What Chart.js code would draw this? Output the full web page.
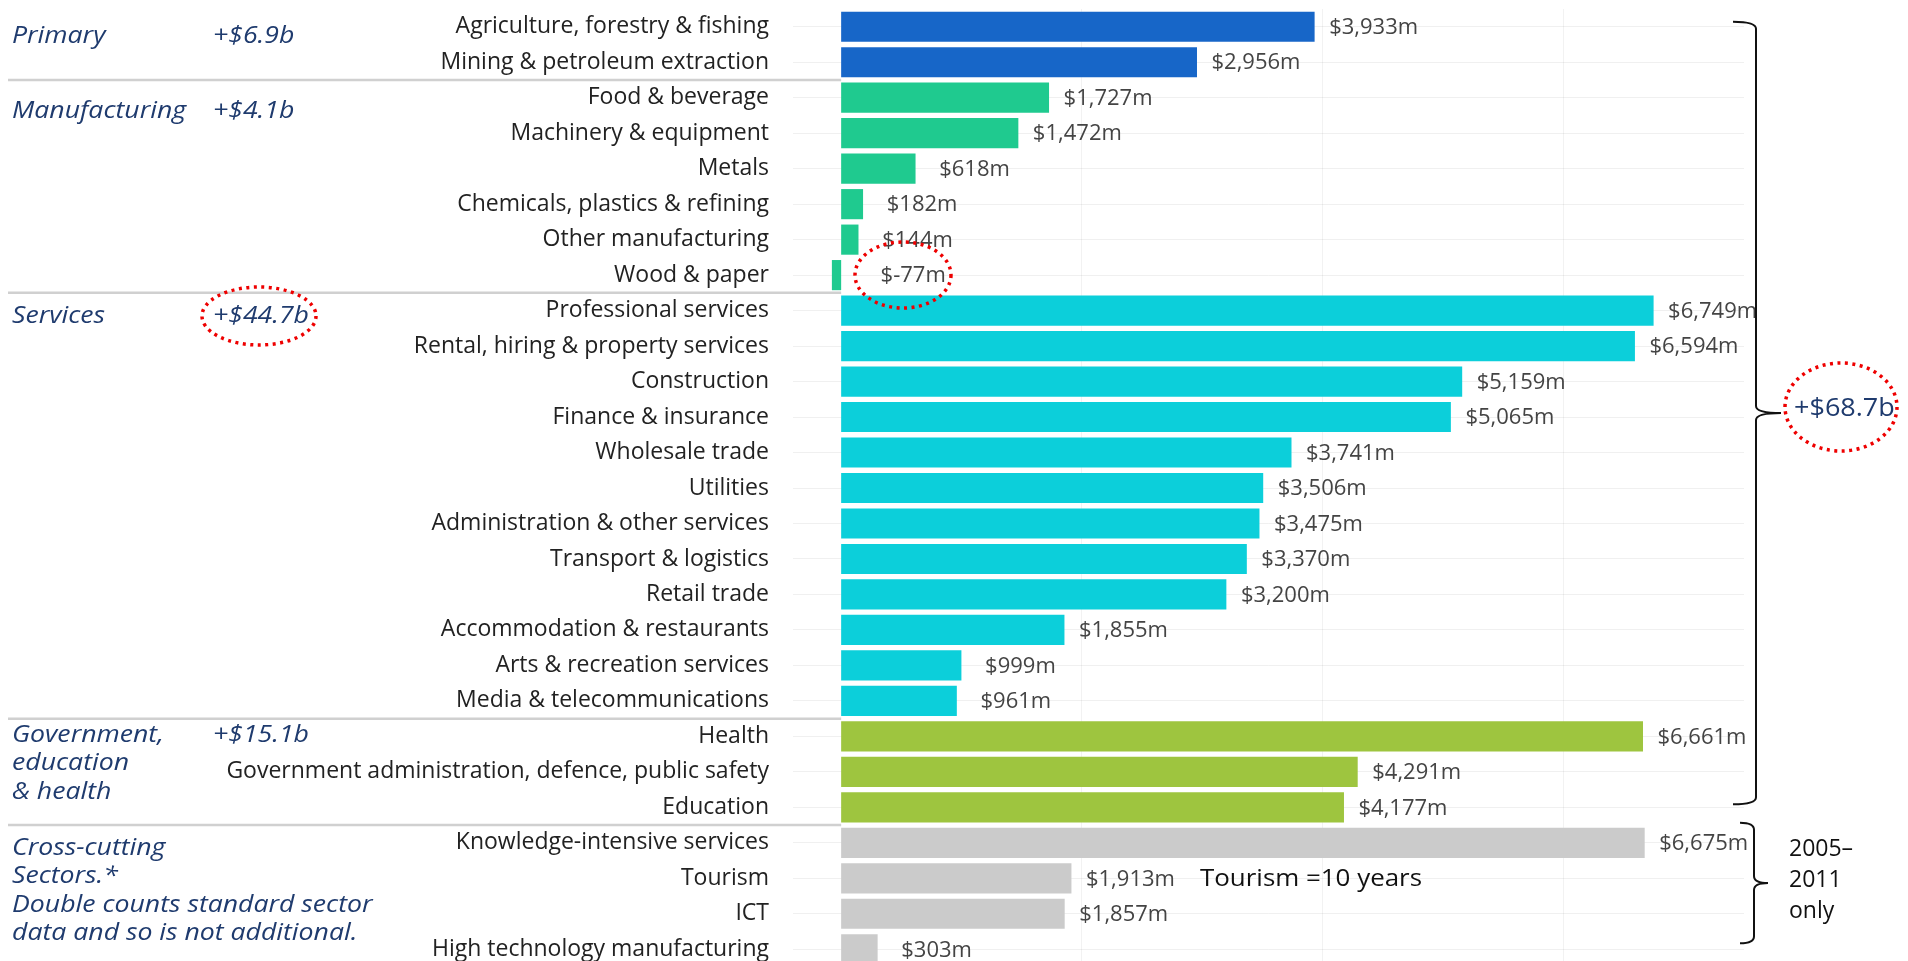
<!DOCTYPE html>
<html>
<head>
<meta charset="utf-8">
<script src="https://cdn.jsdelivr.net/npm/chart.js@4/dist/chart.umd.min.js"></script>
<style>
	html, body { margin: 0; padding: 0; background: #fff; overflow: hidden; }
	#wrap { position: relative; width: 1908px; height: 975px; }
</style>
</head>
<body>
<div id="wrap"><canvas id="sector-chart"></canvas></div>
<script>
const CATEGORIES = [`Agriculture, forestry & fishing`, `Mining & petroleum extraction`,
	`Food & beverage`, `Machinery & equipment`, `Metals`, `Chemicals, plastics & refining`, `Other manufacturing`, `Wood & paper`,
	`Professional services`, `Rental, hiring & property services`, `Construction`, `Finance & insurance`, `Wholesale trade`, `Utilities`,
	`Administration & other services`, `Transport & logistics`, `Retail trade`, `Accommodation & restaurants`, `Arts & recreation services`, `Media & telecommunications`,
	`Health`, `Government administration, defence, public safety`, `Education`,
	`Knowledge-intensive services`, `Tourism`, `ICT`, `High technology manufacturing`];
const VALUES = [3933, 2956,
	1727, 1472, 618, 182, 144, -77,
	6749, 6594, 5159, 5065, 3741, 3506, 3475, 3370, 3200, 1855, 999, 961,
	6661, 4291, 4177,
	6675, 1913, 1857, 303];
const GROUP_SIZES = [2, 6, 12, 3, 4];
const GROUP_NAMES = [[`Primary`], [`Manufacturing`], [`Services`], [`Government,`, `education`, `& health`],
	[`Cross-cutting`, `Sectors.*`, `Double counts standard sector`, `data and so is not additional.`]];
const GROUP_TOTALS = [`+$6.9b`, `+$4.1b`, `+$44.7b`, `+$15.1b`, ``];
const GRAND_TOTAL = `+$68.7b`;
const X_GRID_TICKS = [2000, 4000, 6000];

const C_BLUE = `#1766c8`;
const C_GREEN = `#1fca8f`;
const C_CYAN = `#0ccfda`;
const C_LIME = `#9ec53f`;
const C_GREY = `#cbcbcb`;
const GROUP_COLORS = [C_BLUE, C_GREEN, C_CYAN, C_LIME, C_GREY];
const NAVY = `#1f3b6e`;
const RED = `#ee0000`;

let barColors = [];
GROUP_SIZES.forEach((n, g) => { for (let i = 0; i < n; i++) barColors.push(GROUP_COLORS[g]); });

let groupStart = (g) => GROUP_SIZES.slice(0, g).reduce((a, b) => a + b, 0);

// text drawn a little wider, the original face is a broad geometric one
let wideText = (ctx, t, x, y, sx) => {
	ctx.save();
	ctx.translate(x, y);
	ctx.scale(sx, 1);
	ctx.fillText(t, 0, 0);
	ctx.restore();
};

let dottedEllipse = (ctx, cx, cy, rx, ry) => {
	ctx.save();
	ctx.strokeStyle = RED;
	ctx.lineWidth = 3.5;
	ctx.setLineDash([3, 4.5]);
	ctx.beginPath();
	ctx.ellipse(cx, cy, rx, ry, 0, 0, Math.PI * 2);
	ctx.stroke();
	ctx.restore();
};

let brace = (ctx, xEnd, xLine, xTip, yTop, yBot) => {
	let yMid = (yTop + yBot) / 2, r = 7;
	ctx.save();
	ctx.strokeStyle = `#111`;
	ctx.lineWidth = 2;
	ctx.beginPath();
	ctx.moveTo(xEnd, yTop);
	ctx.quadraticCurveTo(xLine, yTop, xLine, yTop + r);
	ctx.lineTo(xLine, yMid - r);
	ctx.quadraticCurveTo(xLine, yMid, xTip, yMid);
	ctx.moveTo(xTip, yMid);
	ctx.quadraticCurveTo(xLine, yMid, xLine, yMid + r);
	ctx.lineTo(xLine, yBot - r);
	ctx.quadraticCurveTo(xLine, yBot, xEnd, yBot);
	ctx.stroke();
	ctx.restore();
};

const sectorPlugin = {
	id: `sectorAnnotations`,
	beforeDatasetsDraw: (chart) => {
		let ctx = chart.ctx, y = chart.scales.y, x = chart.scales.x;
		ctx.save();
		ctx.strokeStyle = `#d0d0d0`;
		ctx.lineWidth = 2.5;
		for (let g = 1; g < GROUP_SIZES.length; g++) {
			let i = groupStart(g);
			let yy = (y.getPixelForValue(i - 1) + y.getPixelForValue(i)) / 2;
			ctx.beginPath();
			ctx.moveTo(8, yy);
			ctx.lineTo(x.getPixelForValue(0), yy);
			ctx.stroke();
		}
		ctx.restore();
	},
	afterDatasetsDraw: (chart) => {
		let ctx = chart.ctx, y = chart.scales.y, x = chart.scales.x;
		ctx.save();
		// value labels, centred a fixed step past the bar end
		ctx.font = `22px "Open Sans"`;
		ctx.fillStyle = `#444`;
		ctx.textBaseline = `middle`;
		ctx.textAlign = `center`;
		VALUES.forEach((v, i) => {
			let cx = v < 0 ? x.getPixelForValue(0) + 72 : x.getPixelForValue(v) + 59;
			ctx.fillText(`$${v.toLocaleString(`en-US`)}m`, cx, y.getPixelForValue(i) + 1);
		});
		ctx.textAlign = `left`;

		// group names and subtotals
		const groupY = [36, 111, 316, 735, 848];
		ctx.fillStyle = NAVY;
		ctx.font = `italic 24px "Open Sans"`;
		GROUP_NAMES.forEach((lines, g) => {
			lines.forEach((t, k) => wideText(ctx, t, 12, groupY[g] + k * 28.5, 1.11));
			if (GROUP_TOTALS[g]) wideText(ctx, GROUP_TOTALS[g], 213, groupY[g], 1.11);
		});

		// brackets
		brace(ctx, 1733, 1756, 1781, y.getPixelForValue(0) - 5, y.getPixelForValue(22) - 3);
		brace(ctx, 1740, 1754, 1768, y.getPixelForValue(23) - 20, y.getPixelForValue(26) - 6);

		ctx.fillStyle = NAVY;
		ctx.font = `25px "Open Sans"`;
		wideText(ctx, GRAND_TOTAL, 1794, 409, 1.08);

		ctx.fillStyle = `#111`;
		ctx.font = `23px "Open Sans"`;
		[`2005–`, `2011`, `only`].forEach((t, k) => ctx.fillText(t, 1789, 849 + k * 31));
		ctx.font = `24px "Open Sans"`;
		wideText(ctx, `Tourism =10 years`, 1200, y.getPixelForValue(24) + 1, 1.08);

		// highlight rings
		dottedEllipse(ctx, 259, 316, 57, 29);
		dottedEllipse(ctx, 903, 275, 48, 33);
		dottedEllipse(ctx, 1841, 407, 56, 44);
		ctx.restore();
	},
};

let noPad = (s) => { s.paddingTop = 0; s.paddingBottom = 0; s.paddingLeft = 0; s.paddingRight = 0; };

let sectorChart = new Chart(document.getElementById(`sector-chart`).getContext(`2d`),
{
	type: `bar`,
	data: {
		labels: CATEGORIES,
		datasets: [
		{
			label: `Change`,
			data: VALUES,
			backgroundColor: barColors,
			borderWidth: 0,
			categoryPercentage: 1,
			barPercentage: 0.85,
		},],
	},
	options: {
		indexAxis: `y`,
		responsive: true,
		maintainAspectRatio: false,
		animation: false,
		layout: { padding: { top: 9, bottom: 8, left: 0, right: 164 } },
		scales: {
			x: {
				min: -400,
				max: 7500,
				afterBuildTicks: (s) => { s.ticks = X_GRID_TICKS.map((v) => ({ value: v })); },
				afterFit: (s) => { s.height = 0; noPad(s); },
				ticks: { display: false },
				border: { display: false },
				grid: { color: `rgba(0, 0, 0, 0.05)`, drawTicks: false },
			},
			y: {
				afterFit: (s) => { s.width = 793; noPad(s); },
				border: { display: false },
				grid: { offset: false, color: `rgba(0, 0, 0, 0.06)`, drawTicks: false },
				ticks: {
					padding: 24,
					color: `#222`,
					font: { family: `"Open Sans"`, size: 23 },
				},
			},
		},
		plugins: {
			legend: { display: false },
			tooltip: { enabled: false },
		},
	},
	plugins: [sectorPlugin],
});
</script>
</body>
</html>
